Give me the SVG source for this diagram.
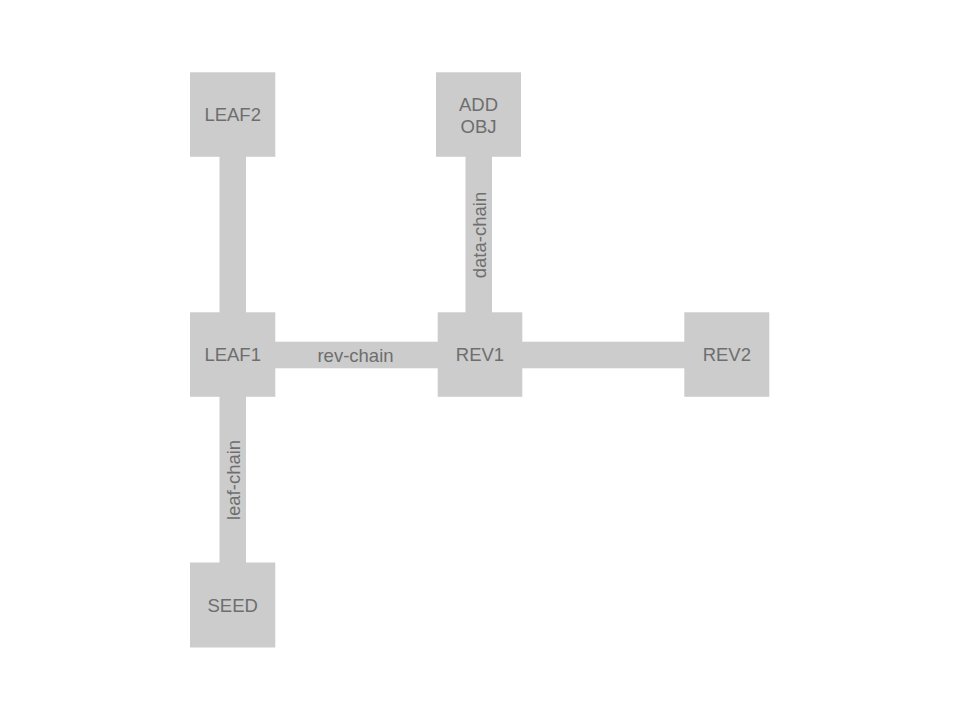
<svg xmlns="http://www.w3.org/2000/svg" width="960" height="720" viewBox="0 0 960 720">
<style>
.n{fill:#cccccc;}
.e{fill:#cccccc;}
text{font-family:"Liberation Sans",Arial,sans-serif;font-size:18.5px;fill:#6e6e6e;text-anchor:middle;dominant-baseline:central;}
</style>
<rect width="960" height="720" fill="#ffffff"/>
<g id="connectors">
<rect class="e" x="219.5" y="156" width="26.5" height="157"/>
<rect class="e" x="219.5" y="396" width="26.5" height="167"/>
<rect class="e" x="275" y="341.7" width="163" height="26.6"/>
<rect class="e" x="522" y="341.7" width="163" height="26.6"/>
<rect class="e" x="465.5" y="156" width="26.5" height="157"/>
<text x="355.5" y="355">rev-chain</text>
<text transform="translate(233,480) rotate(-90)">leaf-chain</text>
<text transform="translate(479.5,235) rotate(-90)">data-chain</text>
</g>
<g id="LEAF2"><rect class="n" x="190" y="72.3" width="85.3" height="84.5"/><text x="232.7" y="114.5">LEAF2</text></g>
<g id="ADDOBJ"><rect class="n" x="436" y="72.3" width="85" height="84.5"/><text x="478.5" y="104.5">ADD</text><text x="478.5" y="126">OBJ</text></g>
<g id="LEAF1"><rect class="n" x="190" y="312.3" width="85.3" height="84.5"/><text x="232.7" y="354.5">LEAF1</text></g>
<g id="REV1"><rect class="n" x="437.7" y="312.3" width="84.6" height="84.5"/><text x="480" y="354.5">REV1</text></g>
<g id="REV2"><rect class="n" x="684.3" y="312.3" width="85" height="84.5"/><text x="726.8" y="354.5">REV2</text></g>
<g id="SEED"><rect class="n" x="190" y="562.5" width="85.3" height="85"/><text x="232.7" y="605">SEED</text></g>
</svg>
